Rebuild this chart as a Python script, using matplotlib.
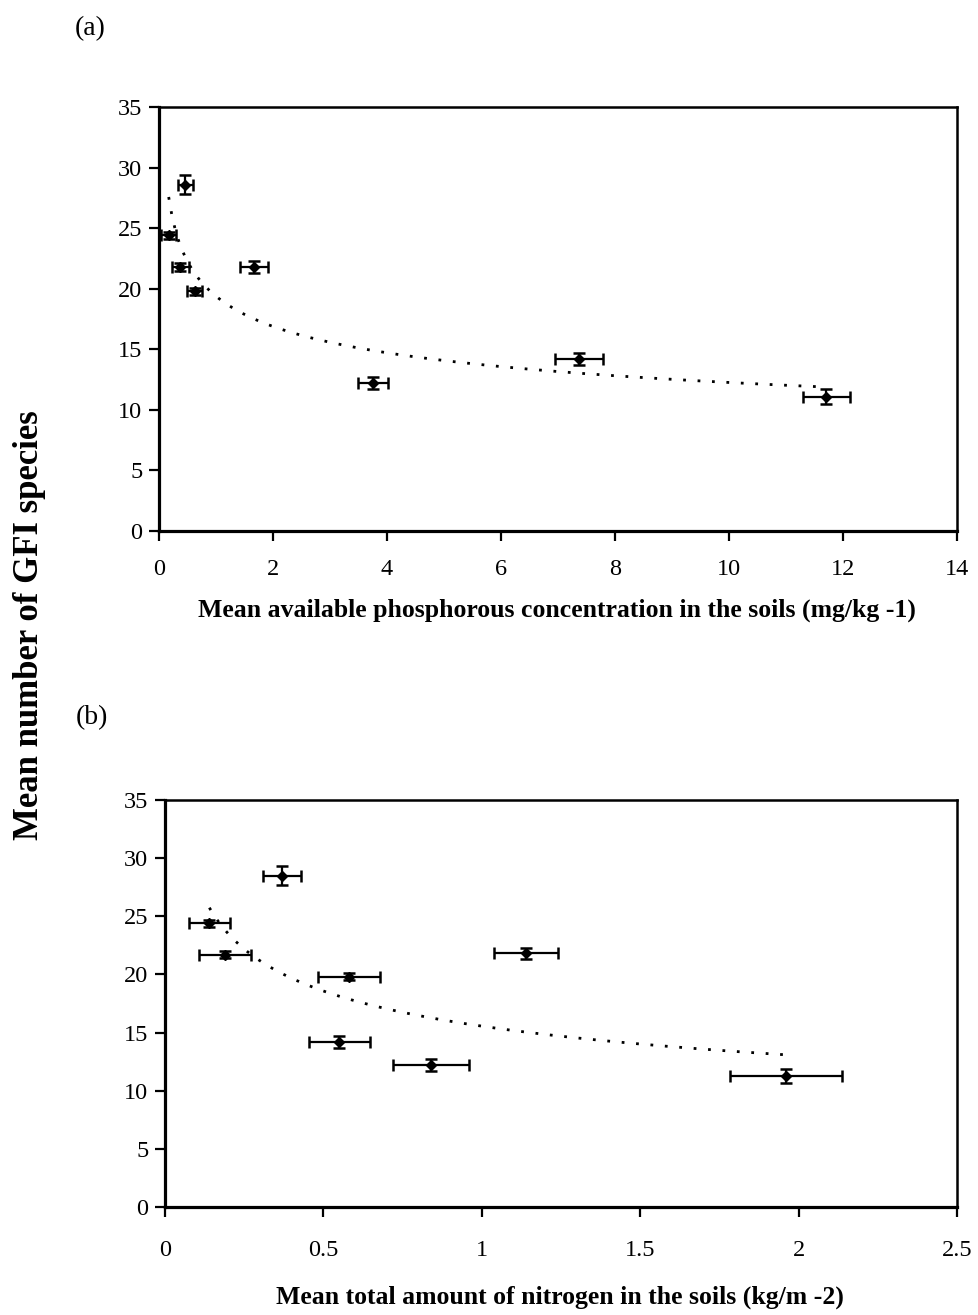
import numpy as np
import matplotlib
matplotlib.use("Agg")
import matplotlib.pyplot as plt

# ---- data ----
species = [28.6, 24.4, 21.8, 19.8, 21.8, 14.2, 12.2, 11.1]
species_err = [0.8, 0.3, 0.3, 0.3, 0.5, 0.5, 0.5, 0.6]

phos = [0.46, 0.17, 0.37, 0.63, 1.67, 7.37, 3.76, 11.71]
phos_err = [0.13, 0.13, 0.15, 0.13, 0.25, 0.42, 0.26, 0.41]

species_b = [28.5, 24.4, 21.7, 19.8, 21.8, 14.2, 12.2, 11.3]
species_b_err = [0.8, 0.3, 0.3, 0.3, 0.5, 0.5, 0.5, 0.6]
nitro = [0.37, 0.14, 0.19, 0.58, 1.14, 0.55, 0.84, 1.96]
nitro_err = [0.06, 0.065, 0.082, 0.098, 0.10, 0.096, 0.119, 0.178]

xticks_a = [0, 2, 4, 6, 8, 10, 12, 14]
xticks_b = [0, 0.5, 1, 1.5, 2, 2.5]
xticklabels_b = ["0", "0.5", "1", "1.5", "2", "2.5"]
yticks = [0, 5, 10, 15, 20, 25, 30, 35]

plt.rcParams['font.family'] = ['Liberation Serif', 'DejaVu Serif']

fig = plt.figure(figsize=(9.79, 13.15), dpi=100)
W, H = 979, 1315

def axes_px(l, r, t, b):
    return fig.add_axes([l / W, 1 - b / H, (r - l) / W, (b - t) / H])

ax_a = axes_px(159, 957, 107, 531)
ax_b = axes_px(165, 957, 800, 1207)


def power_fit(x, y):
    x = np.asarray(x, float)
    y = np.asarray(y, float)
    slope, icpt = np.polyfit(np.log(x), np.log(y), 1)
    xs = np.linspace(x.min(), x.max(), 200)
    return xs, np.exp(icpt) * xs ** slope


def style(ax, xlim, xticks, xlabels, xpad):
    ax.set_xlim(*xlim)
    ax.set_ylim(0, 35)
    ax.set_xticks(xticks)
    ax.set_xticklabels(xlabels)
    ax.set_yticks(yticks)
    ax.tick_params(axis='both', direction='out', length=7, width=1.6,
                   labelsize=17.5, color='black')
    ax.tick_params(axis='x', pad=xpad)
    ax.tick_params(axis='y', pad=5)
    for s in ['left', 'bottom']:
        ax.spines[s].set_linewidth(2.3)
    for s in ['top', 'right']:
        ax.spines[s].set_linewidth(1.8)


# panel (a)
xs, ys = power_fit(phos, species)
ax_a.plot(xs, ys, color='black', lw=2.0, linestyle=(0, (1.0, 4.2)))
ax_a.errorbar(phos, species, xerr=phos_err, yerr=species_err, fmt='D',
              color='black', ms=5, elinewidth=1.6, capsize=4, capthick=1.8)
style(ax_a, (0, 14), xticks_a, [str(t) for t in xticks_a], 13)

# panel (b)
xs, ys = power_fit(nitro, species_b)
ax_b.plot(xs, ys, color='black', lw=2.0, linestyle=(0, (1.0, 4.2)))
ax_b.errorbar(nitro, species_b, xerr=nitro_err, yerr=species_b_err, fmt='D',
              color='black', ms=5, elinewidth=1.6, capsize=4, capthick=1.8)
style(ax_b, (0, 2.5), xticks_b, xticklabels_b, 17)

# texts
fig.text(90 / W, 1 - 29 / H, "(a)", fontsize=20, ha='center', va='center')
fig.text(92 / W, 1 - 718 / H, "(b)", fontsize=20, ha='center', va='center')
fig.text(557 / W, 1 - 610 / H,
         "Mean available phosphorous concentration in the soils (mg/kg -1)",
         fontsize=18.5, fontweight='bold', ha='center', va='center')
fig.text(560 / W, 1 - 1297 / H,
         "Mean total amount of nitrogen in the soils (kg/m -2)",
         fontsize=18.5, fontweight='bold', ha='center', va='center')
fig.text(30 / W, 1 - 625 / H, "Mean number of GFI species",
         fontsize=25, fontweight='bold', rotation=90, ha='center', va='center')

fig.savefig("out.png", dpi=100)
